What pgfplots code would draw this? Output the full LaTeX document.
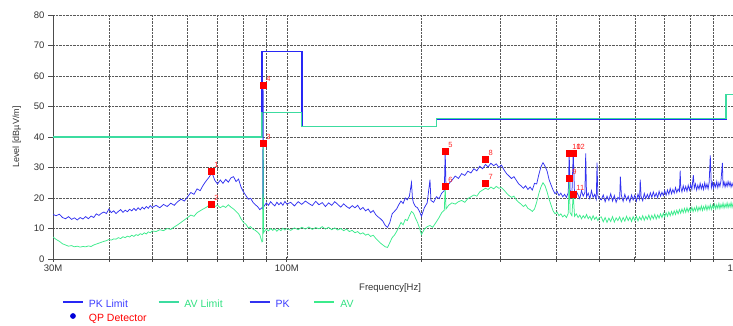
\documentclass[border=0pt]{standalone}
\usepackage{pgfplots}
\pgfplotsset{compat=1.18}
\usepackage{fontspec}
\setmainfont{Liberation Sans}
\definecolor{pkcol}{RGB}{50,50,240}
\definecolor{avcol}{RGB}{60,235,140}
\definecolor{pklim}{RGB}{40,40,245}
\definecolor{avlim}{RGB}{60,220,160}
\definecolor{pktxt}{RGB}{60,60,255}
\definecolor{avtxt}{RGB}{50,225,130}
\begin{document}
\begin{tikzpicture}
\begin{axis}[
  at={(53pt,66pt)}, anchor=south west,
  scale only axis, width=681pt, height=244pt,
  xmode=log, xmin=30, xmax=1000, ymin=0, ymax=80,
  xtick={30,100,1000}, xticklabels={30M,100M,1G},
  minor xtick={40,50,60,70,80,90,200,300,400,500,600,700,800,900},
  ytick={0,10,20,30,40,50,60,70,80},
  xmajorgrids=true, xminorgrids=true, ymajorgrids=true,
  major grid style={densely dotted, black!65, line width=0.6pt},
  minor grid style={densely dotted, black!65, line width=0.6pt},
  axis x line=bottom, axis y line=left,
  axis line style={black!70, line width=0.8pt, -},
  xtick align=center, ytick align=outside,
  major tick length=5pt, minor tick length=5pt,
  tick style={black!70, line width=0.7pt},
  /pgf/number format/assume math mode=true,
  tick label style={font=\fontsize{9.5}{10}\selectfont, text=black!80},
  xlabel={Frequency[Hz]},
  xlabel style={at={(axis description cs:0.495,-0.119)}, anchor=center, font=\fontsize{9.5}{10}\selectfont, text=black!80},
  ylabel={Level [dBµV/m]},
  ylabel style={at={(axis description cs:-0.053,0.5)}, anchor=center, font=\fontsize{9}{10}\selectfont, text=black!80},
  legend columns=4,
  legend cell align=left,
  legend image code/.code={\draw[#1, line width=1.8pt] (0pt,3pt) -- (20pt,3pt);},
  legend style={at={(axis description cs:0.013,-0.164)}, anchor=north west, draw=none, fill=none, inner sep=0pt,
    font=\fontsize{10.5}{11}\selectfont,
    nodes={inner sep=1pt, text height=7.5pt, text depth=2pt},
    /tikz/every odd column/.append style={column sep=4pt},
    /tikz/column 2/.append style={column sep=10pt},
    /tikz/column 4/.append style={column sep=25pt},
    /tikz/column 6/.append style={column sep=23pt},
    /tikz/row sep=2.5pt},
]
% PK limit
\addplot[color=pklim, line width=1.6pt] coordinates {(30,40)(88,40)(88,68)(108,68)(108,43.5)(216,43.5)(216,46)(960,46)(960,54)(1000,54)};
\addlegendentry{\textcolor{pktxt}{PK Limit}}
% AV limit
\addplot[color=avlim, line width=1.4pt] coordinates {(30,40)(88,40)(88,48)(108,48)(108,43.5)(216,43.5)(216,46)(960,46)(960,54)(1000,54)};
\addlegendentry{\textcolor{avtxt}{AV Limit}}
% PK trace
\addplot[color=pkcol, line width=0.75pt] coordinates {
(30,14.6)(30.5,14.2)(31,14.7)(31.5,13.6)(32,13.2)(32.5,13.9)(33,13.0)(33.5,13.5)(34,12.8)(34.5,13.6)(35,13.1)(35.5,13.9)(36,13.2)(36.5,14.1)(37,13.6)(37.5,14.8)(38,14.3)(38.5,15.0)(39,15.4)(39.5,14.9)(40,16.4)(40.5,15.2)(41,15.8)(41.5,14.9)(42,15.6)(42.5,16.2)(43,15.3)(43.5,16.0)(44,15.5)(44.5,16.3)(45,15.8)(45.5,16.6)(46,15.9)(46.5,16.8)(47,16.1)(47.5,17.0)(48,16.4)(48.5,17.2)(49,16.6)(49.5,17.5)(50,16.9)
(51,17.6)(52,16.8)(53,17.9)(54,17.2)(55,18.3)(56,17.6)(57,18.8)(58,19.6)(59,19.0)(60,20.4)(61,21.8)(62,21.2)(63,23.0)(64,22.4)(65,24.2)(66,25.6)(67,26.8)(68,28.4)(69,25.8)(70,24.6)(71,25.9)(72,24.8)(73,26.1)(74,25.2)(75,26.6)(76,27.0)(77,25.4)(78,26.2)(79,23.6)(80,22.0)(81,20.8)(82,19.6)(83,19.9)(84,18.6)(85,17.8)(86,17.2)(87,16.2)(88,16.8)(88.3,16.5)(88.5,57.0)(88.7,17.0)(89,17.4)(90,18.4)(91,17.6)(92,18.8)(93,18.0)(94,17.4)(95,18.6)(96,17.8)(97,18.5)(98,17.6)(99,18.9)(100,18.0)
(102,18.6)(104,17.4)(106,18.8)(108,17.9)(110,19.0)(112,18.2)(114,17.5)(116,18.9)(118,17.8)(120,18.5)(122,17.2)(124,18.4)(126,17.6)(128,18.8)(130,17.9)(132,17.0)(134,18.1)(136,17.2)(138,16.6)(140,17.5)(142,16.8)(144,17.6)(146,16.2)(148,16.9)(150,15.8)(152,16.4)(154,15.2)(156,15.9)(158,14.6)(160,13.8)(162,13.2)(164,12.4)(166,11.0)(168,10.4)(170,12.0)(172,14.8)(174,15.6)(176,16.4)(178,17.8)(180,19.0)(182,18.2)(184,20.0)(186,19.4)(188,20.6)(190,25.0)(191,19.8)(192,18.4)(194,17.2)(196,16.8)(198,15.6)(200,14.0)
(203,16.8)(206,18.4)(209,26.0)(210,19.2)(213,18.6)(216,20.4)(219,19.8)(222,21.6)(225,22.4)(226,35.4)(227,23.0)(230,24.6)(234,25.8)(238,27.2)(242,26.4)(246,28.0)(250,27.4)(254,28.8)(258,28.2)(262,29.6)(266,28.9)(270,30.4)(274,29.6)(278,31.0)(282,30.2)(286,31.4)(290,30.6)(294,31.2)(298,30.0)(302,30.8)(306,29.2)(310,28.0)(314,27.2)(318,26.4)(322,27.0)(326,25.8)(330,24.6)(334,24.0)(338,23.2)(342,24.0)(346,22.8)(350,23.6)(354,22.6)(358,24.8)(362,24.6)(366,27.6)(370,30.2)(374,31.6)(378,30.4)(382,28.8)(386,26.0)(390,24.2)(394,22.6)(398,21.4)(402,22.2)(406,20.8)(410,21.6)(414,20.4)(418,21.2)(422,20.2)(426,21.8)(428,34.8)(430,22.6)(434,21.0)(437,34.8)(440,20.8)(444,22.2)(448,21.0)(452,19.8)(456,22.4)(460,20.6)(464,21.8)(466,34.6)(468,20.4)(472,21.6)(476,19.8)(480,22.4)(484,20.2)(488,21.2)(492,19.6)(494,31.6)(496,20.8)(500,19.8)
(505,19.4)(510,21.0)(515,18.8)(520,20.6)(525,19.2)(530,21.4)(535,19.0)(540,20.8)(545,18.6)(550,20.2)(555,19.6)(557,27.0)(560,20.8)(565,18.9)(570,21.2)(575,19.3)(580,20.6)(585,18.7)(590,21.0)(595,19.4)(600,20.9)(605,19.0)(610,21.3)(615,19.6)(617,26.0)(620,20.4)(625,19.1)(630,21.5)(635,19.8)(640,21.2)(645,19.9)(650,21.7)(655,20.2)(660,22.0)(665,20.4)(670,21.6)(675,20.1)(680,22.2)(685,20.6)(690,21.9)(695,20.8)(700,22.4)(705,20.9)(710,22.6)(715,21.2)(720,23.1)(725,21.4)(730,22.8)(735,21.6)(740,23.4)(745,21.8)(750,23.0)(755,22.2)(758,29.0)(760,23.6)(765,22.0)(770,24.0)(775,22.4)(780,23.8)(785,22.2)(790,24.2)(795,22.6)(800,24.4)(805,22.8)(811,27.5)(815,23.2)(820,24.6)(825,22.6)(830,24.2)(835,22.9)(840,24.8)(845,23.0)(850,24.4)(855,22.8)(860,25.0)(865,23.2)(870,24.6)(875,23.0)(880,25.2)(885,34.0)(890,23.4)(895,25.0)(900,23.2)(905,24.8)(910,23.6)(915,25.4)(920,23.4)(925,25.0)(930,23.8)(935,25.6)(942,31.5)(945,24.0)(950,25.2)(955,23.6)(960,25.0)(965,23.8)(970,25.4)(975,24.0)(980,25.2)(985,23.6)(990,24.8)(995,23.8)(1000,24.6)
};
\addlegendentry{\textcolor{pktxt}{PK}}
% AV trace
\addplot[color=avcol, line width=0.75pt] coordinates {
(30,7.2)(30.5,6.4)(31,5.8)(31.5,5.0)(32,4.6)(32.5,4.2)(33,4.4)(33.5,4.0)(34,4.2)(34.5,3.9)(35,4.1)(35.5,4.0)(36,4.3)(36.5,4.1)(37,4.6)(37.5,4.9)(38,5.2)(38.5,5.5)(39,5.8)(39.5,6.0)(40,6.4)(40.5,6.2)(41,6.6)(41.5,6.5)(42,7.0)(42.5,6.7)(43,7.3)(43.5,7.0)(44,7.5)(44.5,7.2)(45,7.8)(45.5,7.4)(46,8.0)(46.5,7.7)(47,8.3)(47.5,8.0)(48,8.6)(48.5,8.2)(49,8.9)(49.5,8.6)(50,9.2)
(51,9.0)(52,9.6)(53,9.3)(54,10.0)(55,9.7)(56,10.5)(57,11.2)(58,12.0)(59,12.8)(60,13.6)(61,14.4)(62,14.0)(63,15.2)(64,15.8)(65,16.4)(66,16.9)(67,17.6)(68,18.0)(69,17.2)(70,17.6)(71,16.8)(72,17.4)(73,16.9)(74,17.8)(75,17.0)(76,16.4)(77,15.6)(78,14.8)(79,13.2)(80,12.0)(81,11.4)(82,10.2)(83,10.6)(84,9.8)(85,9.4)(86,8.8)(87,8.0)(88,5.6)(88.3,5.8)(88.5,38.0)(88.7,8.6)(89,9.0)(90,9.8)(91,9.2)(92,10.0)(93,9.4)(94,9.9)(95,9.1)(96,9.8)(97,9.3)(98,10.1)(99,9.5)(100,10.0)
(102,9.4)(104,10.2)(106,9.6)(108,10.4)(110,9.8)(112,10.5)(114,9.7)(116,10.3)(118,9.9)(120,10.6)(122,9.8)(124,10.4)(126,9.6)(128,10.2)(130,9.5)(132,10.0)(134,9.3)(136,9.8)(138,9.0)(140,9.4)(142,8.6)(144,9.0)(146,8.2)(148,8.6)(150,7.8)(152,8.2)(154,7.4)(156,7.8)(158,6.8)(160,6.0)(162,5.2)(164,4.6)(166,4.0)(168,3.8)(170,5.4)(172,7.0)(174,7.8)(176,9.0)(178,10.4)(180,12.0)(182,11.2)(184,13.0)(186,12.6)(188,14.2)(190,15.6)(192,15.0)(194,13.4)(196,12.0)(198,10.2)(200,8.0)
(203,9.8)(206,10.6)(209,11.0)(212,10.4)(216,12.2)(219,13.6)(222,15.2)(225,16.0)(226,23.8)(227,16.4)(230,17.6)(234,18.4)(238,18.0)(242,18.8)(246,19.2)(250,18.6)(254,19.8)(258,20.4)(262,21.0)(266,20.6)(270,22.0)(274,22.6)(278,23.2)(282,22.8)(286,23.6)(290,23.0)(294,23.8)(298,23.2)(302,23.4)(306,22.6)(310,21.6)(314,20.8)(318,20.2)(322,20.6)(326,19.4)(330,18.6)(334,18.0)(338,17.2)(342,17.8)(346,16.6)(350,16.2)(354,15.6)(358,16.4)(362,18.6)(366,21.4)(370,23.6)(374,25.0)(378,24.0)(382,22.0)(386,19.6)(390,17.6)(394,15.8)(398,14.8)(402,15.4)(406,14.2)(410,14.8)(414,13.8)(418,14.4)(422,13.6)(426,15.0)(428,26.6)(430,15.2)(434,14.2)(437,21.3)(440,14.0)(444,14.8)(448,13.6)(452,14.4)(456,13.2)(460,14.2)(464,13.4)(468,14.6)(472,13.2)(476,14.0)(480,12.8)(484,14.2)(488,13.0)(492,13.8)(496,12.6)(500,13.6)
(505,13.8)(510,12.2)(515,13.6)(520,12.0)(525,13.4)(530,12.3)(535,13.9)(540,12.1)(545,13.5)(550,12.6)(555,13.8)(560,12.2)(565,13.6)(570,12.4)(575,14.0)(580,12.6)(585,13.7)(590,12.3)(595,13.9)(600,12.6)(605,14.0)(610,12.5)(615,13.8)(620,12.8)(625,14.2)(630,12.7)(635,14.0)(640,13.0)(645,14.4)(650,12.9)(655,14.3)(660,13.2)(665,14.6)(670,13.1)(675,14.4)(680,13.4)(685,14.8)(690,13.6)(695,15.0)(700,13.8)(705,15.2)(710,14.0)(715,15.4)(720,14.2)(725,15.6)(730,14.4)(735,15.8)(740,14.6)(745,16.0)(750,14.8)(755,16.2)(760,15.0)(765,16.4)(770,15.2)(775,16.6)(780,15.3)(785,16.8)(790,15.4)(795,16.6)(800,15.6)(805,17.0)(810,15.5)(815,16.8)(820,15.8)(825,17.2)(830,15.7)(835,17.0)(840,16.0)(845,17.4)(850,15.9)(855,17.2)(860,16.2)(865,17.6)(870,16.0)(875,17.4)(880,16.3)(885,17.8)(890,16.2)(895,17.6)(900,16.5)(905,18.0)(910,16.4)(915,17.8)(920,16.6)(925,18.2)(930,16.5)(935,17.9)(940,16.8)(945,18.3)(950,16.7)(955,18.0)(960,16.9)(965,18.4)(970,16.8)(975,18.1)(980,17.0)(985,18.5)(990,16.9)(995,18.2)(1000,17.2)
};
\addlegendentry{\textcolor{avtxt}{AV}}
\addlegendimage{legend image code/.code={\fill[blue!85!black] (10pt,3pt) circle (2.6pt);}}
\addlegendentry{\textcolor{red}{QP Detector}}
% QP markers
\addplot[only marks, mark=square*, mark size=3pt, red, forget plot,
  point meta=explicit symbolic, nodes near coords,
  every node near coord/.append style={anchor=south west, font=\fontsize{7.5}{8}\selectfont, text=red!85, inner sep=0.5pt, xshift=2.5pt, yshift=2.5pt}]
coordinates {
(67.7,28.9)[1] (67.7,18.0)[2] (88.5,38.0)[3] (88.5,57.0)[4]
(226,35.4)[5] (226,24.0)[6] (278,25.0)[7] (278,32.8)[8]
(428,26.6)[9] (428,34.8)[10] (437,21.3)[11] (437,34.8)[12]
};
\end{axis}
\pgfresetboundingbox
\useasboundingbox (0,0) rectangle (733pt,325pt);
\end{tikzpicture}
\end{document}
